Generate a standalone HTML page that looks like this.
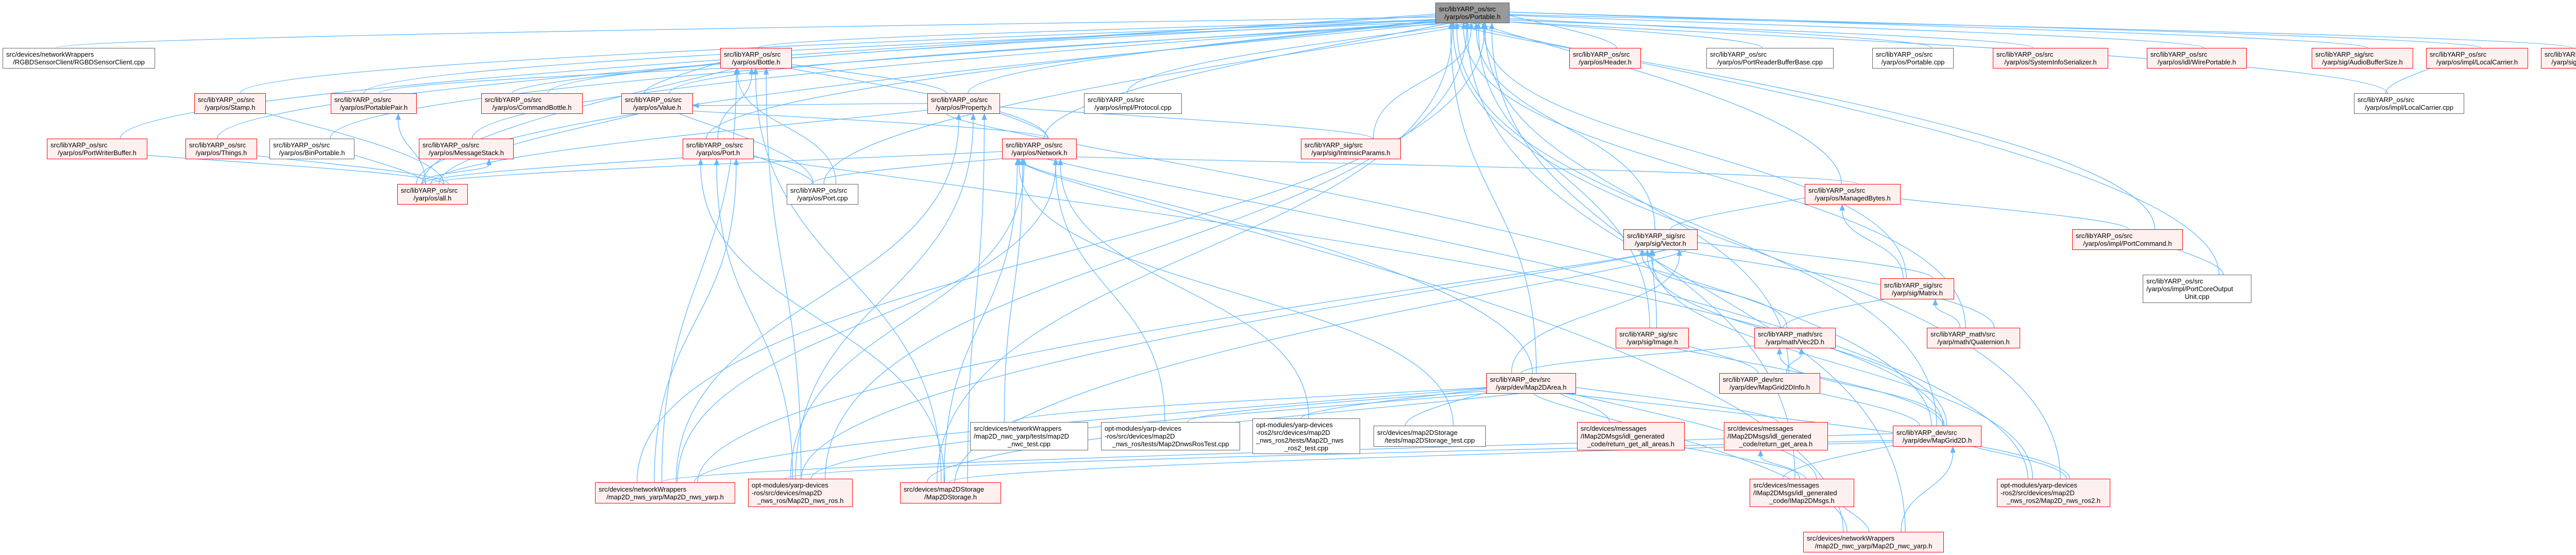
<!DOCTYPE html>
<html><head><meta charset="utf-8">
<style>
html,body{margin:0;padding:0;background:#fff;}
#wrap{position:relative;width:5080px;height:1077px;overflow:hidden;background:#fff;}
svg{position:absolute;left:0;top:0;}
.n{position:absolute;box-sizing:border-box;border:1.5px solid #f00;background:#fff0f0;font-family:"Liberation Sans","DejaVu Sans",sans-serif;font-size:13px;line-height:15px;color:#000;display:flex;flex-direction:column;justify-content:center;padding:0 6px;white-space:nowrap;overflow:hidden;}
.w{border-color:#666;background:#fff;}
.g{border-color:#666;background:#999;}
.n span{display:block;text-align:left;}
.n span:last-child{text-align:center;}
</style></head><body><div id="wrap">
<svg id="s" width="5080" height="1077"></svg>
<div class="n g" id="P" style="left:2786px;top:5px;width:144px;height:40px"><span>src/libYARP_os/src</span><span>/yarp/os/Portable.h</span></div>

<div class="n w" id="rgbd" style="left:5px;top:93px;width:296px;height:40px"><span>src/devices/networkWrappers</span><span>/RGBDSensorClient/RGBDSensorClient.cpp</span></div>
<div class="n" id="bottle" style="left:1398px;top:93px;width:139px;height:40px"><span>src/libYARP_os/src</span><span>/yarp/os/Bottle.h</span></div>
<div class="n" id="header" style="left:3046px;top:93px;width:139px;height:40px"><span>src/libYARP_os/src</span><span>/yarp/os/Header.h</span></div>
<div class="n w" id="prbb" style="left:3312px;top:93px;width:247px;height:40px"><span>src/libYARP_os/src</span><span>/yarp/os/PortReaderBufferBase.cpp</span></div>
<div class="n w" id="pcpp" style="left:3634px;top:93px;width:158px;height:40px"><span>src/libYARP_os/src</span><span>/yarp/os/Portable.cpp</span></div>
<div class="n" id="sysinfo" style="left:3868px;top:93px;width:224px;height:40px"><span>src/libYARP_os/src</span><span>/yarp/os/SystemInfoSerializer.h</span></div>
<div class="n" id="wire" style="left:4167px;top:93px;width:194px;height:40px"><span>src/libYARP_os/src</span><span>/yarp/os/idl/WirePortable.h</span></div>
<div class="n" id="audio" style="left:4487px;top:93px;width:197px;height:40px"><span>src/libYARP_sig/src</span><span>/yarp/sig/AudioBufferSize.h</span></div>
<div class="n" id="lch" style="left:4709px;top:93px;width:198px;height:40px"><span>src/libYARP_os/src</span><span>/yarp/os/impl/LocalCarrier.h</span></div>
<div class="n" id="sound" style="left:4932px;top:93px;width:142px;height:40px"><span>src/libYARP_sig/src</span><span>/yarp/sig/Sound.h</span></div>

<div class="n" id="stamp" style="left:377px;top:181px;width:139px;height:40px"><span>src/libYARP_os/src</span><span>/yarp/os/Stamp.h</span></div>
<div class="n" id="ppair" style="left:642px;top:181px;width:167px;height:40px"><span>src/libYARP_os/src</span><span>/yarp/os/PortablePair.h</span></div>
<div class="n" id="cmdb" style="left:934px;top:181px;width:197px;height:40px"><span>src/libYARP_os/src</span><span>/yarp/os/CommandBottle.h</span></div>
<div class="n" id="value" style="left:1206px;top:181px;width:139px;height:40px"><span>src/libYARP_os/src</span><span>/yarp/os/Value.h</span></div>
<div class="n" id="prop" style="left:1800px;top:181px;width:141px;height:40px"><span>src/libYARP_os/src</span><span>/yarp/os/Property.h</span></div>
<div class="n w" id="proto" style="left:2104px;top:181px;width:190px;height:40px"><span>src/libYARP_os/src</span><span>/yarp/os/impl/Protocol.cpp</span></div>
<div class="n w" id="lccpp" style="left:4569px;top:181px;width:214px;height:40px"><span>src/libYARP_os/src</span><span>/yarp/os/impl/LocalCarrier.cpp</span></div>

<div class="n" id="pwb" style="left:91px;top:269px;width:195px;height:40px"><span>src/libYARP_os/src</span><span>/yarp/os/PortWriterBuffer.h</span></div>
<div class="n" id="things" style="left:360px;top:269px;width:139px;height:40px"><span>src/libYARP_os/src</span><span>/yarp/os/Things.h</span></div>
<div class="n w" id="binp" style="left:523px;top:269px;width:165px;height:40px"><span>src/libYARP_os/src</span><span>/yarp/os/BinPortable.h</span></div>
<div class="n" id="msgs" style="left:813px;top:269px;width:184px;height:40px"><span>src/libYARP_os/src</span><span>/yarp/os/MessageStack.h</span></div>
<div class="n" id="porth" style="left:1325px;top:269px;width:138px;height:40px"><span>src/libYARP_os/src</span><span>/yarp/os/Port.h</span></div>
<div class="n" id="net" style="left:1945px;top:269px;width:145px;height:40px"><span>src/libYARP_os/src</span><span>/yarp/os/Network.h</span></div>
<div class="n" id="intr" style="left:2525px;top:269px;width:194px;height:40px"><span>src/libYARP_sig/src</span><span>/yarp/sig/IntrinsicParams.h</span></div>

<div class="n" id="all" style="left:771px;top:357px;width:137px;height:40px"><span>src/libYARP_os/src</span><span>/yarp/os/all.h</span></div>
<div class="n w" id="portcpp" style="left:1527px;top:357px;width:139px;height:40px"><span>src/libYARP_os/src</span><span>/yarp/os/Port.cpp</span></div>
<div class="n" id="mb" style="left:3503px;top:357px;width:186px;height:40px"><span>src/libYARP_os/src</span><span>/yarp/os/ManagedBytes.h</span></div>

<div class="n" id="vec" style="left:3151px;top:445px;width:144px;height:40px"><span>src/libYARP_sig/src</span><span>/yarp/sig/Vector.h</span></div>
<div class="n" id="pcmd" style="left:4022px;top:445px;width:215px;height:40px"><span>src/libYARP_os/src</span><span>/yarp/os/impl/PortCommand.h</span></div>

<div class="n" id="matrix" style="left:3650px;top:540px;width:143px;height:41px"><span>src/libYARP_sig/src</span><span>/yarp/sig/Matrix.h</span></div>
<div class="n w" id="pcou" style="left:4159px;top:533px;width:211px;height:55px"><span>src/libYARP_os/src</span><span>/yarp/os/impl/PortCoreOutput</span><span>Unit.cpp</span></div>

<div class="n" id="image" style="left:3136px;top:636px;width:142px;height:40px"><span>src/libYARP_sig/src</span><span>/yarp/sig/Image.h</span></div>
<div class="n" id="vec2d" style="left:3405px;top:636px;width:158px;height:40px"><span>src/libYARP_math/src</span><span>/yarp/math/Vec2D.h</span></div>
<div class="n" id="quat" style="left:3740px;top:636px;width:181px;height:40px"><span>src/libYARP_math/src</span><span>/yarp/math/Quaternion.h</span></div>

<div class="n" id="area" style="left:2885px;top:724px;width:174px;height:40px"><span>src/libYARP_dev/src</span><span>/yarp/dev/Map2DArea.h</span></div>
<div class="n" id="g2dinfo" style="left:3337px;top:724px;width:196px;height:40px"><span>src/libYARP_dev/src</span><span>/yarp/dev/MapGrid2DInfo.h</span></div>

<div class="n w" id="nwctest" style="left:1883px;top:819px;width:229px;height:55px"><span>src/devices/networkWrappers</span><span>/map2D_nwc_yarp/tests/map2D</span><span>_nwc_test.cpp</span></div>
<div class="n w" id="rostest" style="left:2137px;top:819px;width:270px;height:55px"><span>opt-modules/yarp-devices</span><span>-ros/src/devices/map2D</span><span>_nws_ros/tests/Map2DnwsRosTest.cpp</span></div>
<div class="n w" id="ros2test" style="left:2431px;top:812px;width:209px;height:69px"><span>opt-modules/yarp-devices</span><span>-ros2/src/devices/map2D</span><span>_nws_ros2/tests/Map2D_nws</span><span>_ros2_test.cpp</span></div>
<div class="n w" id="stest" style="left:2666px;top:826px;width:218px;height:41px"><span>src/devices/map2DStorage</span><span>/tests/map2DStorage_test.cpp</span></div>
<div class="n" id="gaa" style="left:3061px;top:819px;width:209px;height:55px"><span>src/devices/messages</span><span>/IMap2DMsgs/idl_generated</span><span>_code/return_get_all_areas.h</span></div>
<div class="n" id="ga" style="left:3346px;top:819px;width:202px;height:55px"><span>src/devices/messages</span><span>/IMap2DMsgs/idl_generated</span><span>_code/return_get_area.h</span></div>
<div class="n" id="grid" style="left:3674px;top:826px;width:172px;height:41px"><span>src/libYARP_dev/src</span><span>/yarp/dev/MapGrid2D.h</span></div>

<div class="n" id="nwsyarp" style="left:1155px;top:936px;width:272px;height:41px"><span>src/devices/networkWrappers</span><span>/map2D_nws_yarp/Map2D_nws_yarp.h</span></div>
<div class="n" id="nwsros" style="left:1452px;top:929px;width:203px;height:55px"><span>opt-modules/yarp-devices</span><span>-ros/src/devices/map2D</span><span>_nws_ros/Map2D_nws_ros.h</span></div>
<div class="n" id="storage" style="left:1747px;top:936px;width:196px;height:41px"><span>src/devices/map2DStorage</span><span>/Map2DStorage.h</span></div>
<div class="n" id="imsgs" style="left:3396px;top:929px;width:203px;height:55px"><span>src/devices/messages</span><span>/IMap2DMsgs/idl_generated</span><span>_code/IMap2DMsgs.h</span></div>
<div class="n" id="nwsros2" style="left:3876px;top:929px;width:220px;height:55px"><span>opt-modules/yarp-devices</span><span>-ros2/src/devices/map2D</span><span>_nws_ros2/Map2D_nws_ros2.h</span></div>

<div class="n" id="nwcyarp" style="left:3500px;top:1032px;width:273px;height:40px"><span>src/devices/networkWrappers</span><span>/map2D_nwc_yarp/Map2D_nwc_yarp.h</span></div>
</div>
<script>
(function(){
var E={
P:"rgbd bottle header prbb pcpp sysinfo wire audio lch sound stamp ppair cmdb value prop proto lccpp pwb things binp msgs porth net intr all portcpp mb vec pcmd pcou image quat matrix area g2dinfo grid storage nwsros nwsyarp nwsros2 nwcyarp imsgs",
bottle:"cmdb value ppair prop portcpp all net porth nwsyarp nwsros storage",
value:"all net prop portcpp",
prop:"net intr all storage nwsros nwsyarp grid",
net:"all portcpp nwsyarp nwsros storage nwctest rostest ros2test stest nwcyarp nwsros2 area mb",
porth:"all portcpp nwsyarp nwsros storage grid",
stamp:"all",ppair:"all",pwb:"all",things:"all",binp:"all",msgs:"all",
lch:"lccpp",mb:"vec matrix pcmd",pcmd:"pcou",
vec:"matrix image vec2d quat grid area nwsros nwsros2 storage nwsyarp",
matrix:"vec2d quat",image:"grid g2dinfo",vec2d:"area g2dinfo grid",g2dinfo:"grid",
area:"nwsyarp nwsros storage nwctest rostest ros2test stest gaa ga nwsros2 nwcyarp imsgs",
grid:"nwsros2 imsgs nwsyarp nwsros storage nwcyarp",
gaa:"imsgs",ga:"imsgs",imsgs:"nwcyarp"};
function r(id){var e=document.getElementById(id);var x=e.offsetLeft,y=e.offsetTop;return{x1:x,y1:y,x2:x+e.offsetWidth,y2:y+e.offsetHeight,cx:x+e.offsetWidth/2,cy:y+e.offsetHeight/2,w:e.offsetWidth,h:e.offsetHeight};}
var h=0;function rnd(){h=(h*9301+49297)%233280;return h/233280-0.5;}
var out="";
for(var p in E){var b=r(p);var cs=E[p].split(" ");
for(var i=0;i<cs.length;i++){var a=r(cs[i]);
var sx,sy,ex,ey,c1x,c1y,c2x,c2y;
var dx=b.cx-a.cx;
sx=a.cx+rnd()*a.w*0.5; sy=a.y1;
if(a.y1<=b.y2+2){ // same row / below
 sy=a.cy; sx=dx>0?a.x2:a.x1; ey=b.cy+rnd()*b.h*0.5; ex=dx>0?b.x1:b.x2;
 c1x=sx+(ex-sx)*0.4;c1y=sy;c2x=ex-(ex-sx)*0.4;c2y=ey;
} else {
 var dy=a.y1-b.y2;
 if(Math.abs(dx)>dy*2.2){
  ex=dx>0?b.x1:b.x2; ey=b.cy+rnd()*b.h*0.6;
  c1x=sx;c1y=sy-dy*0.6;c2x=ex-(dx>0?-1:1)*Math.min(Math.abs(dx)*0.5,600);c2y=ey;
 } else {
  ex=b.cx+rnd()*b.w*0.6; ey=b.y2;
  c1x=sx;c1y=sy-dy*0.5;c2x=ex;c2y=ey+dy*0.5;
 }
}
var ang=Math.atan2(ey-c2y,ex-c2x);var L=11,W=4.5;
var lx=ex-L*Math.cos(ang),ly=ey-L*Math.sin(ang);
out+='<path d="M'+sx.toFixed(1)+','+sy.toFixed(1)+' C'+c1x.toFixed(1)+','+c1y.toFixed(1)+' '+c2x.toFixed(1)+','+c2y.toFixed(1)+' '+lx.toFixed(1)+','+ly.toFixed(1)+'" fill="none" stroke="#63b8ff" stroke-width="1.3"/>';
var px=-Math.sin(ang)*W,py=Math.cos(ang)*W;
out+='<polygon points="'+ex.toFixed(1)+','+ey.toFixed(1)+' '+(lx+px).toFixed(1)+','+(ly+py).toFixed(1)+' '+(lx-px).toFixed(1)+','+(ly-py).toFixed(1)+'" fill="#63b8ff" stroke="#63b8ff"/>';
}}
document.getElementById("s").innerHTML=out;
})();
</script>
</body></html>
